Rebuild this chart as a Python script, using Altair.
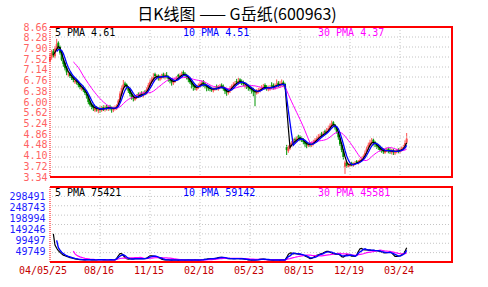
import altair as alt
import pandas as pd

TITLE = "日K线图 —— G岳纸(600963)"
DATE_LABELS = ["04/05/25", "08/16", "11/15", "02/18", "05/23", "08/15", "12/19", "03/24"]
DAYS_PER_LABEL = 60
DAYS_PER_ROW = 2
PRICE_TICKS = [8.66, 8.28, 7.90, 7.52, 7.14, 6.76, 6.38, 6.00, 5.62, 5.24, 4.86, 4.48, 4.10, 3.72, 3.34]
VOL_TICKS = [298491, 248743, 198994, 149246, 99497, 49749]
PRICE_MA_TEXT = ["5 PMA 4.61", "10 PMA 4.51", "30 PMA 4.37"]
VOL_MA_TEXT = ["5 PMA 75421", "10 PMA 59142", "30 PMA 45581"]

CLOSE = [
    7.60, 7.75, 7.65, 7.90, 8.05, 7.95, 7.75, 7.50, 7.35, 7.20, 7.05, 7.00,
    6.92, 6.85, 6.78, 6.75, 6.70, 6.60, 6.52, 6.50, 6.42, 6.32, 6.22, 6.00,
    5.90, 5.82, 5.78, 5.80, 5.74, 5.76, 5.72, 5.78, 5.75, 5.80, 5.78, 5.82,
    5.78, 5.74, 5.78, 5.80, 5.85, 6.05, 6.30, 6.50, 6.62, 6.60, 6.55, 6.40,
    6.28, 6.18, 6.12, 6.15, 6.20, 6.22, 6.28, 6.25, 6.30, 6.32, 6.45, 6.60,
    6.72, 6.80, 6.88, 6.92, 6.90, 6.86, 6.88, 6.92, 6.90, 6.94, 6.90, 6.82,
    6.75, 6.70, 6.74, 6.78, 6.85, 6.90, 6.94, 6.98, 7.00, 6.95, 6.88, 6.80,
    6.70, 6.60, 6.54, 6.50, 6.52, 6.58, 6.64, 6.68, 6.62, 6.56, 6.52, 6.48,
    6.46, 6.44, 6.46, 6.50, 6.48, 6.52, 6.56, 6.54, 6.46, 6.38, 6.34, 6.40,
    6.48, 6.56, 6.62, 6.66, 6.70, 6.74, 6.72, 6.68, 6.64, 6.60, 6.56, 6.50,
    6.46, 6.42, 6.36, 6.34, 6.38, 6.42, 6.44, 6.50, 6.54, 6.52, 6.48, 6.50,
    6.52, 6.55, 6.54, 6.58, 6.62, 6.60, 6.64, 6.66, 6.62, 6.55, 4.30, 4.38,
    4.48, 4.55, 4.60, 4.64, 4.70, 4.74, 4.70, 4.66, 4.58, 4.52, 4.48, 4.50,
    4.48, 4.52, 4.58, 4.64, 4.70, 4.76, 4.80, 4.84, 4.88, 4.92, 4.98, 5.06,
    5.16, 5.24, 5.20, 5.10, 4.95, 4.75, 4.50, 4.30, 4.05, 3.85, 3.74, 3.76,
    3.80, 3.78, 3.80, 3.84, 3.86, 3.88, 3.94, 3.98, 4.08, 4.20, 4.35, 4.48,
    4.56, 4.60, 4.55, 4.50, 4.42, 4.38, 4.30, 4.28, 4.24, 4.28, 4.30, 4.26,
    4.24, 4.28, 4.22, 4.24, 4.28, 4.26, 4.30, 4.34, 4.40, 4.55, 4.70,
]
OPEN = [
    7.45, 7.58, 7.80, 7.62, 7.88, 8.10, 7.95, 7.78, 7.48, 7.38, 7.22, 6.98,
    7.02, 6.90, 6.88, 6.70, 6.78, 6.66, 6.62, 6.45, 6.52, 6.40, 6.30, 6.20,
    6.02, 5.92, 5.85, 5.70, 5.82, 5.68, 5.78, 5.70, 5.82, 5.72, 5.84, 5.74,
    5.84, 5.80, 5.70, 5.76, 5.78, 5.86, 6.06, 6.28, 6.48, 6.66, 6.62, 6.52,
    6.42, 6.30, 6.20, 6.08, 6.14, 6.28, 6.20, 6.32, 6.22, 6.36, 6.30, 6.44,
    6.58, 6.70, 6.78, 6.98, 6.86, 6.94, 6.80, 6.86, 6.98, 6.86, 6.96, 6.90,
    6.84, 6.78, 6.66, 6.72, 6.80, 6.96, 6.88, 6.92, 7.06, 7.00, 6.96, 6.86,
    6.82, 6.72, 6.62, 6.58, 6.44, 6.50, 6.56, 6.60, 6.74, 6.66, 6.58, 6.54,
    6.52, 6.48, 6.40, 6.44, 6.56, 6.44, 6.50, 6.60, 6.56, 6.48, 6.42, 6.32,
    6.38, 6.46, 6.58, 6.60, 6.74, 6.66, 6.80, 6.74, 6.70, 6.56, 6.62, 6.58,
    6.52, 6.48, 6.44, 6.40, 6.30, 6.36, 6.40, 6.44, 6.48, 6.60, 6.54, 6.44,
    6.46, 6.58, 6.60, 6.50, 6.56, 6.68, 6.56, 6.60, 6.70, 6.64, 4.40, 4.26,
    4.36, 4.50, 4.52, 4.68, 4.62, 4.78, 4.76, 4.72, 4.68, 4.60, 4.54, 4.44,
    4.52, 4.46, 4.50, 4.58, 4.62, 4.70, 4.74, 4.88, 4.82, 4.96, 4.90, 5.00,
    5.04, 5.12, 5.28, 5.18, 5.08, 4.92, 4.70, 4.48, 4.28, 3.70, 3.84, 3.70,
    3.74, 3.84, 3.74, 3.80, 3.90, 3.82, 3.88, 3.96, 4.02, 4.10, 4.24, 4.36,
    4.46, 4.54, 4.66, 4.58, 4.52, 4.44, 4.40, 4.34, 4.32, 4.20, 4.26, 4.34,
    4.30, 4.20, 4.30, 4.18, 4.22, 4.32, 4.24, 4.28, 4.32, 4.40, 4.56,
]
HIGH = [
    7.70, 7.85, 7.88, 7.98, 8.24, 8.15, 8.00, 7.82, 7.55, 7.42, 7.28, 7.10,
    7.06, 6.98, 6.92, 6.84, 6.82, 6.72, 6.68, 6.60, 6.58, 6.45, 6.36, 6.25,
    6.08, 5.98, 5.90, 5.86, 5.86, 5.82, 5.84, 5.86, 5.88, 5.88, 5.90, 5.88,
    5.90, 5.84, 5.84, 5.88, 5.92, 6.10, 6.38, 6.58, 6.78, 6.72, 6.66, 6.56,
    6.46, 6.34, 6.24, 6.22, 6.28, 6.34, 6.36, 6.38, 6.38, 6.42, 6.52, 6.68,
    6.80, 6.90, 7.02, 7.04, 6.98, 6.98, 6.96, 7.00, 7.04, 7.02, 7.06, 6.94,
    6.88, 6.82, 6.80, 6.86, 6.92, 7.00, 7.02, 7.08, 7.12, 7.06, 7.00, 6.90,
    6.86, 6.76, 6.66, 6.62, 6.60, 6.66, 6.72, 6.76, 6.78, 6.70, 6.62, 6.58,
    6.58, 6.54, 6.52, 6.56, 6.62, 6.60, 6.64, 6.66, 6.62, 6.52, 6.46, 6.48,
    6.56, 6.62, 6.70, 6.74, 6.82, 6.86, 6.84, 6.80, 6.76, 6.70, 6.68, 6.62,
    6.58, 6.54, 6.50, 6.44, 6.46, 6.50, 6.52, 6.60, 6.64, 6.66, 6.60, 6.58,
    6.60, 6.70, 6.66, 6.66, 6.80, 6.74, 6.74, 6.80, 6.76, 6.68, 4.48, 4.46,
    4.56, 4.62, 4.70, 4.74, 4.78, 4.84, 4.82, 4.78, 4.72, 4.64, 4.58, 4.56,
    4.58, 4.60, 4.66, 4.72, 4.80, 4.86, 4.88, 4.94, 4.96, 5.02, 5.08, 5.16,
    5.24, 5.34, 5.32, 5.22, 5.12, 4.96, 4.74, 4.56, 4.34, 3.92, 3.90, 3.84,
    3.86, 3.88, 3.86, 3.90, 3.94, 3.94, 4.00, 4.06, 4.14, 4.28, 4.42, 4.56,
    4.66, 4.72, 4.70, 4.62, 4.56, 4.48, 4.46, 4.40, 4.36, 4.34, 4.38, 4.40,
    4.36, 4.34, 4.34, 4.30, 4.34, 4.36, 4.38, 4.42, 4.48, 4.64, 4.90,
]
LOW = [
    7.40, 7.50, 7.58, 7.55, 7.80, 7.88, 7.68, 7.45, 7.25, 7.12, 6.95, 6.90,
    6.85, 6.78, 6.70, 6.64, 6.62, 6.52, 6.45, 6.40, 6.35, 6.25, 6.12, 5.92,
    5.84, 5.74, 5.68, 5.64, 5.66, 5.60, 5.62, 5.65, 5.68, 5.66, 5.70, 5.68,
    5.70, 5.62, 5.64, 5.70, 5.72, 5.82, 6.00, 6.22, 6.42, 6.52, 6.45, 6.32,
    6.20, 6.08, 6.02, 6.04, 6.10, 6.14, 6.14, 6.18, 6.16, 6.24, 6.26, 6.38,
    6.52, 6.64, 6.72, 6.84, 6.80, 6.76, 6.74, 6.80, 6.84, 6.80, 6.84, 6.72,
    6.66, 6.58, 6.60, 6.68, 6.74, 6.84, 6.84, 6.88, 6.92, 6.86, 6.80, 6.70,
    6.64, 6.48, 6.40, 6.42, 6.40, 6.46, 6.50, 6.56, 6.54, 6.48, 6.38, 6.40,
    6.38, 6.36, 6.34, 6.40, 6.42, 6.40, 6.46, 6.48, 6.40, 6.28, 6.22, 6.26,
    6.32, 6.40, 6.50, 6.54, 6.62, 6.60, 6.64, 6.60, 6.56, 6.48, 6.46, 6.40,
    6.38, 6.30, 6.20, 5.85, 6.26, 6.30, 6.34, 6.40, 6.44, 6.44, 6.40, 6.38,
    6.40, 6.46, 6.44, 6.44, 6.50, 6.52, 6.50, 6.56, 6.54, 6.45, 4.12, 4.20,
    4.30, 4.42, 4.46, 4.56, 4.56, 4.66, 4.62, 4.58, 4.50, 4.40, 4.36, 4.40,
    4.40, 4.40, 4.46, 4.54, 4.58, 4.66, 4.68, 4.76, 4.78, 4.84, 4.86, 4.96,
    5.00, 5.08, 5.12, 5.02, 4.88, 4.66, 4.44, 4.22, 3.96, 3.45, 3.66, 3.68,
    3.70, 3.72, 3.70, 3.76, 3.80, 3.78, 3.84, 3.90, 3.98, 4.06, 4.18, 4.30,
    4.40, 4.48, 4.46, 4.40, 4.34, 4.30, 4.24, 4.20, 4.16, 4.16, 4.22, 4.18,
    4.16, 4.14, 4.12, 4.12, 4.18, 4.18, 4.18, 4.24, 4.28, 4.36, 4.52,
]
VOLUME_K = [
    210, 95, 76, 60, 50, 45, 35, 30, 28, 26, 22, 20,
    18, 16, 15, 12, 11, 12, 10, 11, 9, 10, 12, 11,
    9, 10, 11, 9, 10, 12, 10, 9, 11, 10, 9, 10,
    11, 10, 9, 10, 30, 45, 40, 28, 20, 14, 12, 14,
    15, 13, 15, 16, 14, 15, 16, 14, 15, 17, 20, 30,
    32, 22, 25, 25, 22, 16, 12, 10, 10, 9, 10, 9,
    8, 9, 10, 9, 8, 9, 10, 9, 8, 9, 10, 9,
    8, 9, 10, 9, 8, 9, 10, 11, 12, 14, 13, 15,
    16, 14, 15, 18, 20, 22, 22, 20, 18, 16, 15, 14,
    15, 16, 14, 15, 16, 15, 14, 15, 13, 11, 10, 9,
    9, 8, 10, 9, 11, 12, 13, 14, 12, 11, 10, 9,
    9, 8, 9, 10, 9, 8, 9, 10, 9, 8, 45, 50,
    28, 42, 40, 35, 38, 32, 36, 30, 25, 26, 20, 16,
    10, 22, 30, 28, 32, 36, 40, 38, 46, 52, 48, 44,
    40, 38, 36, 34, 36, 35, 24, 14, 30, 38, 36, 28,
    26, 26, 28, 22, 45, 75, 60, 50, 58, 55, 55, 52,
    54, 50, 55, 50, 48, 52, 45, 40, 42, 40, 44, 46,
    48, 30, 22, 25, 28, 27, 30, 40, 44, 60, 90,
]

n = len(CLOSE)
assert all(len(a) == n for a in (OPEN, HIGH, LOW, VOLUME_K)), [len(a) for a in (CLOSE, OPEN, HIGH, LOW, VOLUME_K)]

W, H_P, GAP, H_V = 402, 150, 10, 75
H = H_P + GAP + H_V
P_DOM = [3.34, 8.66]
V_DOM = [0, 339200]
X_DOM = [0, 482.4]

MONO = "DejaVu Sans Mono"
RED = "#ff0000"
GRIDC = "#c4c4c4"
UP = "#ff5252"
DOWN = "#009400"
BLACK, BLUE, MAG = "#000000", "#0000ff", "#ff00ff"

df = pd.DataFrame({
    "r": list(range(n)),
    "d": [DAYS_PER_ROW * i for i in range(n)],
    "o": OPEN, "h": HIGH, "l": LOW, "c": CLOSE,
    "v": [k * 1000 for k in VOLUME_K],
})

xs = alt.Scale(domain=X_DOM, nice=False, zero=False)
ps = alt.Scale(domain=P_DOM, range=[H_P, 0], nice=False, zero=False)
vs = alt.Scale(domain=V_DOM, range=[H, H_P + GAP], nice=False, zero=False)

x_ticks = [DAYS_PER_LABEL * k for k in range(len(DATE_LABELS))]

price_axis = alt.Axis(
    values=PRICE_TICKS, format=".2f", labelColor="#ff6262", labelFont=MONO, labelFontSize=10,
    labelPadding=3, labelOverlap=False, ticks=False, grid=False, domain=False,
    title=None, orient="left",
)
vol_axis = alt.Axis(
    values=VOL_TICKS, format="d", labelColor="#1c1cff", labelFont=MONO, labelFontSize=10,
    labelPadding=5, labelOverlap=False, ticks=False, grid=False, domain=False,
    title=None, orient="left",
)

base = alt.Chart(df)
up_cond = alt.condition("datum.c >= datum.o", alt.value(UP), alt.value(DOWN))

wick = base.mark_rule(strokeWidth=1).encode(
    x=alt.X("d:Q", scale=xs, axis=None),
    y=alt.Y("l:Q", scale=ps, axis=price_axis),
    y2="h:Q",
    color=up_cond,
)
body = base.mark_rule(strokeWidth=2).encode(
    x=alt.X("d:Q", scale=xs, axis=None),
    y=alt.Y("o:Q", scale=ps, axis=None),
    y2="c:Q",
    color=up_cond,
)


def ma_line(field, rows, color, width, yscale, axis=None):
    return (
        base.transform_window(m="mean(%s)" % field, frame=[-(rows - 1), 0], sort=[alt.SortField("r")])
        .transform_filter("datum.r >= %d" % (rows - 1))
        .mark_line(color=color, strokeWidth=width)
        .encode(
            x=alt.X("d:Q", scale=xs, axis=None),
            y=alt.Y("m:Q", scale=yscale, axis=axis),
        )
    )


p_grid_vals = [P_DOM[0] + k * (P_DOM[1] - P_DOM[0]) / 15 for k in range(1, 15)]
v_grid_vals = [V_DOM[1] * k / 8 for k in range(1, 8)]
x_grid_vals = x_ticks[1:]

p_hgrid = alt.Chart(pd.DataFrame({"g": p_grid_vals})).mark_rule(color=GRIDC, strokeDash=[1, 2]).encode(
    y=alt.Y("g:Q", scale=ps, axis=None))
v_hgrid = alt.Chart(pd.DataFrame({"g": v_grid_vals})).mark_rule(color=GRIDC, strokeDash=[1, 2]).encode(
    y=alt.Y("g:Q", scale=vs, axis=None))
gx = pd.DataFrame({"g": x_grid_vals})
xgrid_top = alt.Chart(gx).mark_rule(color=GRIDC, strokeDash=[1, 2]).encode(
    x=alt.X("g:Q", scale=xs, axis=None), y=alt.value(0), y2=alt.value(H_P))
xgrid_bot = alt.Chart(gx).mark_rule(color=GRIDC, strokeDash=[1, 2]).encode(
    x=alt.X("g:Q", scale=xs, axis=None), y=alt.value(H_P + GAP), y2=alt.value(H))

# date labels under the volume panel, placed through the x scale
dates_df = pd.DataFrame({"d": x_ticks, "t": DATE_LABELS})
date_first = alt.Chart(dates_df.iloc[:1]).mark_text(
    font=MONO, fontSize=10, color="#c40000", align="center", baseline="top", dx=-7
).encode(x=alt.X("d:Q", scale=xs, axis=None), y=alt.value(H + 4), text="t:N")
date_rest = alt.Chart(dates_df.iloc[1:]).mark_text(
    font=MONO, fontSize=10, color="#c40000", align="center", baseline="top", dx=-1
).encode(x=alt.X("d:Q", scale=xs, axis=None), y=alt.value(H + 4), text="t:N")

one = pd.DataFrame({"k": [0]})


def hline(y):
    return alt.Chart(one).mark_rule(color=RED, strokeWidth=2).encode(
        x=alt.value(0), x2=alt.value(W + 1), y=alt.value(y))


def vline(x, y0, y1, dash=False):
    kw = {"strokeDash": [1, 1], "strokeWidth": 1} if dash else {"strokeWidth": 2}
    return alt.Chart(one).mark_rule(color=RED, **kw).encode(
        x=alt.value(x), y=alt.value(y0), y2=alt.value(y1))


frames = [
    hline(0), hline(H_P), vline(W, 0, H_P), vline(0, 0, H_P, dash=True),
    hline(H_P + GAP), hline(H), vline(W, H_P + GAP, H), vline(0, H_P + GAP, H, dash=True),
]


def label(text, color, x, y, font=MONO, size=10):
    return alt.Chart(pd.DataFrame({"t": [text]})).mark_text(
        font=font, fontSize=size, color=color, align="left", baseline="middle"
    ).encode(text="t:N", x=alt.value(x), y=alt.value(y))


texts = [
    label(PRICE_MA_TEXT[0], BLACK, 5, 6),
    label(PRICE_MA_TEXT[1], BLUE, 133, 6),
    label(PRICE_MA_TEXT[2], MAG, 268, 6),
    label(VOL_MA_TEXT[0], BLACK, 5, H_P + GAP + 5.5),
    label(VOL_MA_TEXT[1], BLUE, 133, H_P + GAP + 5.5),
    label(VOL_MA_TEXT[2], MAG, 268, H_P + GAP + 5.5),
]
title = alt.Chart(pd.DataFrame({"t": [TITLE]})).mark_text(
    font="Noto Sans CJK SC", fontSize=16, color="#000000", align="center", baseline="middle"
).encode(text="t:N", x=alt.value(187), y=alt.value(-12))

layers = [
    wick,
    ma_line("v", 3, BLACK, 1.2, vs, axis=vol_axis),
    p_hgrid, v_hgrid, xgrid_top, xgrid_bot,
    body,
    ma_line("c", 15, MAG, 1, ps),
    ma_line("c", 3, BLACK, 1.2, ps),
    ma_line("c", 5, BLUE, 1.3, ps),
    ma_line("v", 15, MAG, 1.2, vs),
    ma_line("v", 5, BLUE, 1.4, vs),
    date_first, date_rest,
    *frames, *texts, title,
]

chart = (
    alt.layer(*layers)
    .resolve_scale(y="independent")
    .properties(
        width=W, height=H,
        padding={"left": 50, "top": 27, "right": 36, "bottom": 25},
        autosize=alt.AutoSizeParams(type="none"),
        background="white",
    )
    .configure_view(strokeWidth=0)
)

chart.save("out.html", embed_options={"renderer": "svg", "actions": False})
